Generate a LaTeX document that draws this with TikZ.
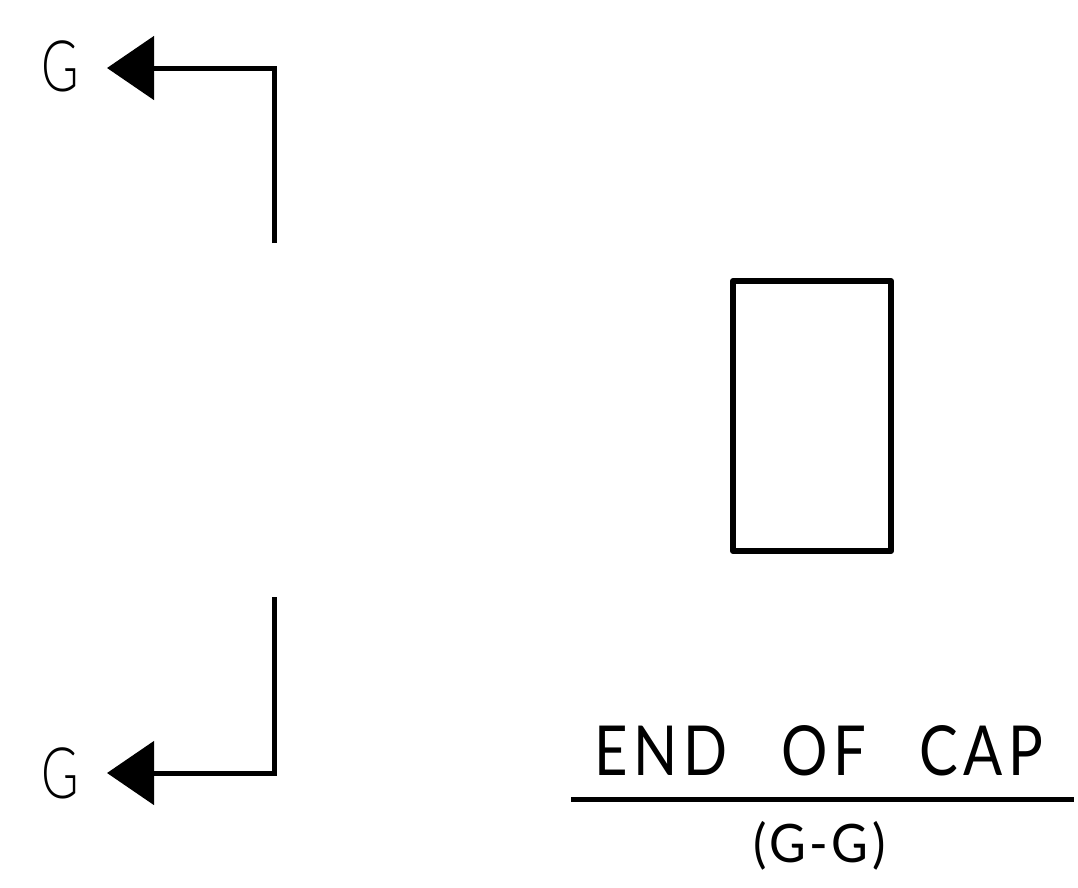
\documentclass[tikz,border=0pt]{standalone}
\usepackage{fontspec}
\usetikzlibrary{arrows.meta}
\setmainfont{Lato}
\newfontfamily\thinfont{Lato Light}
\newfontfamily\capsfont[LetterSpace=9,WordSpace=2.7]{Lato}
\newfontfamily\subfont[LetterSpace=7]{Lato}
\tikzset{
  x=1pt,y=-1pt,
  heavy/.style={line width=5pt,black,line join=miter},
  boxline/.style={line width=6pt,black,line join=round},
  sect/.style={heavy,-{Triangle[length=47pt,width=63pt]},shorten >=-1pt},
  lbl/.style={inner sep=0pt,outer sep=0pt,anchor=center,text=black}
}
\begin{document}
\begin{tikzpicture}
\useasboundingbox (0,0) rectangle (1078,887);
\node[lbl,font=\thinfont\fontsize{71}{71}\selectfont,xscale=0.72] (gtop) at (60,66.5) {G};
\node[lbl,font=\thinfont\fontsize{71}{71}\selectfont,xscale=0.72] (gbot) at (60,773.5) {G};
\coordinate (ttip) at (108,68);
\coordinate (tcor) at (274,68);
\coordinate (tend) at (274,243);
\coordinate (btip) at (108,773);
\coordinate (bcor) at (274,773);
\coordinate (bend) at (274,597);
\draw[sect] (tend) -- (tcor) -- (ttip);
\draw[sect] (bend) -- (bcor) -- (btip);
\draw[boxline] (733,281) rectangle (891,551);
\node[lbl,font=\capsfont\fontsize{69}{69}\selectfont,xscale=0.84] (title) at (819,751) {END OF CAP};
\coordinate (ruleL) at (571,799);
\coordinate (ruleR) at (1074,799);
\draw[heavy] (ruleL) -- (ruleR);
\node[lbl,font=\subfont\fontsize{53}{53}\selectfont,xscale=0.95] (sub) at (819.5,846) {(G-G)};
\end{tikzpicture}
\end{document}
